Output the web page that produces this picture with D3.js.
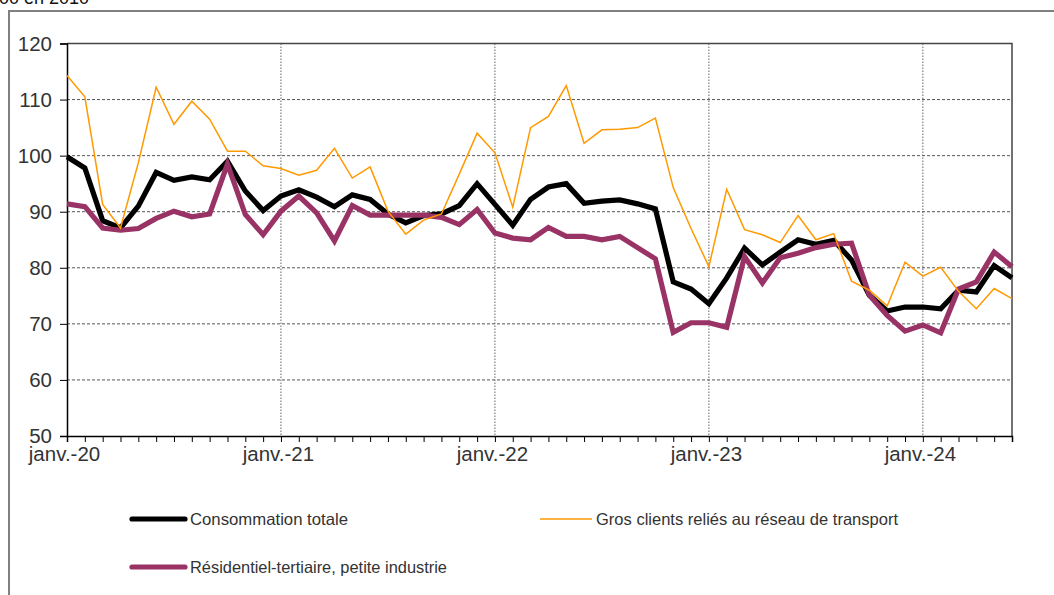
<!DOCTYPE html>
<html>
<head>
<meta charset="utf-8">
<script src="https://cdn.jsdelivr.net/npm/d3@7"></script>
<style>
  body { margin: 0; background: #fff; }
  svg { display: block; font-family: "Liberation Sans", Arial, sans-serif; }
</style>
</head>
<body>
<svg id="chart" width="1054" height="595"></svg>
<script>
// months Jan 2020 .. Jun 2024
const monthNames = ['janv.', 'févr.', 'mars', 'avr.', 'mai', 'juin', 'juil.', 'août', 'sept.', 'oct.', 'nov.', 'déc.'];
const years = ['20', '21', '22', '23', '24'];
const categories = years.flatMap(y => monthNames.map(m => `${m}-${y}`)).slice(0, 54);

const yTicks = [50, 60, 70, 80, 90, 100, 110, 120];
const xLabels = ['janv.-20', 'janv.-21', 'janv.-22', 'janv.-23', 'janv.-24'];

const consoTotale = [99.8, 97.8, 88.4, 87.1, 91.0, 97.0, 95.6, 96.2, 95.7, 99.0,
    93.7, 90.2, 92.8, 93.9, 92.6, 90.9, 93.0, 92.2, 89.6, 88.0,
    89.3, 89.6, 91.1, 95.0, 91.3, 87.6, 92.2, 94.4, 95.0, 91.5,
    91.9, 92.1, 91.4, 90.5, 77.5, 76.2, 73.6, 78.2, 83.5, 80.5,
    82.8, 85.0, 84.2, 84.9, 81.4, 75.1, 72.3, 73.0, 73.0, 72.7,
    76.0, 75.7, 80.4, 78.2];
const grosClients = [114.3, 110.5, 91.3, 87.1, 98.7, 112.2, 105.6, 109.7, 106.5, 100.8,
    100.8, 98.2, 97.7, 96.5, 97.4, 101.3, 96.0, 98.0, 90.1, 86.0,
    88.5, 89.6, 96.7, 104.0, 100.5, 90.8, 105.0, 107.0, 112.5, 102.2,
    104.6, 104.7, 105.0, 106.7, 94.3, 87.0, 80.2, 94.0, 86.8, 85.9,
    84.5, 89.3, 85.0, 86.1, 77.6, 76.0, 73.2, 81.0, 78.5, 80.1,
    75.8, 72.7, 76.3, 74.5];
const residentiel = [91.4, 90.9, 87.1, 86.7, 87.0, 88.8, 90.1, 89.1, 89.6, 98.5,
    89.5, 85.9, 90.1, 92.8, 89.8, 84.8, 91.1, 89.4, 89.4, 89.4,
    89.4, 89.0, 87.7, 90.4, 86.2, 85.3, 85.0, 87.2, 85.6, 85.6,
    85.0, 85.6, 83.6, 81.6, 68.5, 70.2, 70.2, 69.4, 82.0, 77.3,
    81.8, 82.6, 83.6, 84.2, 84.4, 75.1, 71.5, 68.7, 69.8, 68.4,
    76.2, 77.5, 82.8, 80.2];

const series = [
    {name: 'Consommation totale', values: consoTotale, color: '#000000', width: 5.2},
    {name: 'Résidentiel-tertiaire, petite industrie', values: residentiel, color: '#993366', width: 5.2},
    {name: 'Gros clients reliés au réseau de transport', values: grosClients, color: '#FF9900', width: 1.5}
];

const PLOT = {left: 67, right: 1012, top: 43.5, bottom: 436};
const TEXT_COLOR = '#333';

const svg = d3.select('#chart');

// outer frame (cut off at the right / bottom)
svg.append('path')
    .attr('d', `M9,595 V11 H1054`)
    .attr('fill', 'none')
    .attr('stroke', '#808080')
    .attr('stroke-width', 2);

svg.append('text')      // unit caption, mostly outside the picture
    .attr('x', 89)
    .attr('y', 4)
    .attr('text-anchor', 'end')
    .attr('font-size', 18)
    .attr('fill', '#111')
    .text('Base 100 en 2010');

const x = d3.scalePoint()
    .domain(categories)
    .range([PLOT.left, PLOT.right]);
const y = d3.scaleLinear()
    .domain([50, 120])
    .range([PLOT.bottom, PLOT.top]);

const g = svg.append('g');

// horizontal grid
g.append('g')
    .selectAll('line')
    .data(yTicks.filter(v => v > 50 && v < 120))
    .join('line')
    .attr('x1', PLOT.left).attr('x2', PLOT.right)
    .attr('y1', d => y(d)).attr('y2', d => y(d))
    .attr('stroke', '#555')
    .attr('stroke-width', 1)
    .attr('stroke-dasharray', '3,2');

// vertical grid at january
g.append('g')
    .selectAll('line')
    .data(xLabels.slice(1))
    .join('line')
    .attr('x1', d => x(d)).attr('x2', d => x(d))
    .attr('y1', PLOT.top).attr('y2', PLOT.bottom)
    .attr('stroke', '#666')
    .attr('stroke-width', 1)
    .attr('stroke-dasharray', '1.5,1.5');

// top and right border
g.append('path')
    .attr('d', `M${PLOT.left},${y(120)} H${PLOT.right} V${PLOT.bottom}`)
    .attr('fill', 'none')
    .attr('stroke', '#444')
    .attr('stroke-width', 1.5);

// y axis
const yAxis = g.append('g')
    .attr('transform', `translate(${PLOT.left},0)`)
    .call(d3.axisLeft(y).tickValues(yTicks).tickSize(7).tickPadding(8));
yAxis.selectAll('text')
    .attr('font-size', 20.5)
    .attr('font-family', '"Liberation Sans", Arial, sans-serif')
    .attr('fill', TEXT_COLOR);

// x axis
const xAxis = g.append('g')
    .attr('transform', `translate(0,${PLOT.bottom})`)
    .call(d3.axisBottom(x)
        .tickValues(categories)
        .tickSize(6)
        .tickPadding(4)
        .tickFormat(d => xLabels.includes(d) ? d : ''));
xAxis.selectAll('text')
    .attr('font-size', 20.5)
    .attr('font-family', '"Liberation Sans", Arial, sans-serif')
    .attr('fill', TEXT_COLOR)
    .attr('dx', -3);

g.selectAll('.domain').attr('stroke', '#000').attr('stroke-width', 1.5);
g.selectAll('.tick line').attr('stroke', '#000');

// lines
const line = d3.line()
    .x((d, i) => x(categories[i]))
    .y(d => y(d));

g.append('g')
    .selectAll('path')
    .data(series)
    .join('path')
    .attr('d', d => line(d.values))
    .attr('fill', 'none')
    .attr('stroke', d => d.color)
    .attr('stroke-width', d => d.width)
    .attr('stroke-linejoin', 'miter');

// legend
const legendItems = [
    {s: series[0], x: 132, y: 519, len: 158},
    {s: series[2], x: 540, y: 519, len: 302},
    {s: series[1], x: 132, y: 567, len: 257}
];
const legend = svg.append('g');
legendItems.forEach(item => {
    const li = legend.append('g').attr('transform', `translate(${item.x},${item.y})`);
    li.append('line')
        .attr('x1', 0).attr('x2', item.s.width > 2 ? 53 : 52)
        .attr('stroke', item.s.color)
        .attr('stroke-width', item.s.width)
        .attr('stroke-linecap', item.s.width > 2 ? 'round' : 'butt');
    li.append('text')
        .attr('x', item.s.width > 2 ? 58 : 56)
        .attr('dy', '0.35em')
        .attr('font-size', 16.5)
        .attr('fill', TEXT_COLOR)
        .attr('textLength', item.len)
        .attr('lengthAdjust', 'spacingAndGlyphs')
        .text(item.s.name);
});
</script>
</body>
</html>
